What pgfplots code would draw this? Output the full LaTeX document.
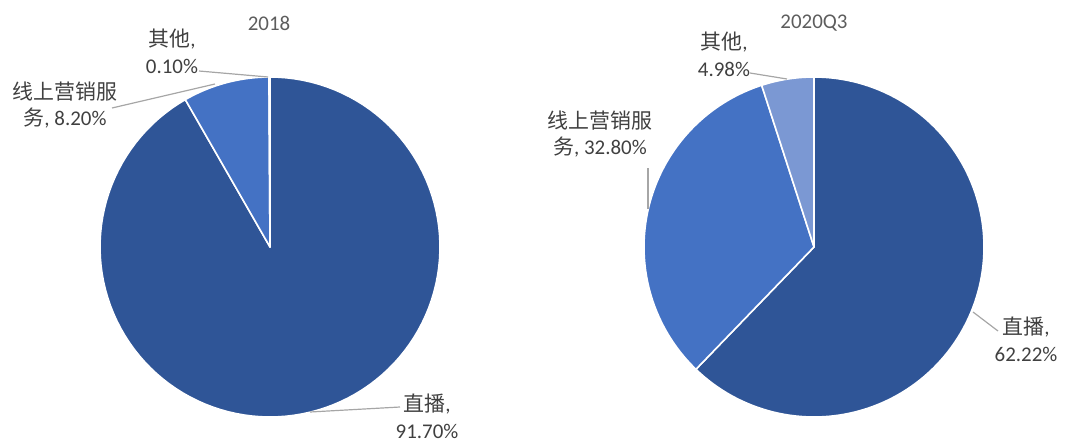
\documentclass[border=0pt]{standalone}
\usepackage{pgfplots}
\pgfplotsset{compat=1.18}
\usepackage{fontspec}
\setmainfont{Carlito}
\newfontfamily\cjk{Noto Sans CJK SC}

\definecolor{live}{HTML}{2F5597}
\definecolor{mkt}{HTML}{4472C4}
\definecolor{other}{HTML}{7B98D3}
\definecolor{lbl}{HTML}{404040}
\definecolor{lead}{HTML}{A6A6A6}

\tikzset{
  lab/.style={font=\fontsize{10.5}{13.5}\selectfont, text=lbl, align=center, inner sep=0pt},
  leader/.style={lead, line width=0.6pt},
}

% pie radius in px of the 1080x444 canvas
\def\radius{170}
% one slice, clockwise from 12 o'clock: cx, cy, from %, to %, colour
\newcommand{\slice}[5]{%
  \addplot[fill=#5, draw=white, line width=0.8pt, line join=round,
    domain=#3:#4, samples=120, variable=\t]
    ({#1+\radius*sin(3.6*\t)}, {#2-\radius*cos(3.6*\t)}) -- (axis cs:#1,#2) -- cycle;}

\begin{document}
\begin{tikzpicture}
\begin{axis}[
  hide axis, scale only axis,
  width=540bp, height=222bp,
  xmin=0, xmax=1080, ymin=0, ymax=444,
  y dir=reverse,
  clip=false,
]
% 2018: live 91.70, marketing 8.20, other 0.10
\slice{270}{247}{0}{91.70}{live}
\slice{270}{247}{91.70}{99.90}{mkt}
\slice{270}{247}{99.90}{100}{other}
% 2020Q3: live 62.22, marketing 32.80, other 4.98
\slice{814}{247}{0}{62.22}{live}
\slice{814}{247}{62.22}{95.02}{mkt}
\slice{814}{247}{95.02}{100}{other}

% titles
\node[lab, text=lbl!85] at (axis cs:269,23) {2018};
\node[lab, text=lbl!85] at (axis cs:814,23) {2020Q3};

% leader lines
\draw[leader] (axis cs:199,71) -- (axis cs:268,77);
\draw[leader] (axis cs:112,108) -- (axis cs:215,84);
\draw[leader] (axis cs:310,412) -- (axis cs:400,407);
\draw[leader] (axis cs:750,73) -- (axis cs:787,79);
\draw[leader] (axis cs:648,168) -- (axis cs:648,209);
\draw[leader] (axis cs:973,312) -- (axis cs:998,331);

% data labels
\node[lab] at (axis cs:172,51) {{\cjk 其他}, \\ 0.10\%};
\node[lab] at (axis cs:65,105) {{\cjk 线上营销服} \\ {\cjk 务}, 8.20\%};
\node[lab] at (axis cs:427,416) {{\cjk 直播}, \\ 91.70\%};
\node[lab] at (axis cs:724,54) {{\cjk 其他}, \\ 4.98\%};
\node[lab] at (axis cs:600,134) {{\cjk 线上营销服} \\ {\cjk 务}, 32.80\%};
\node[lab] at (axis cs:1026,339) {{\cjk 直播}, \\ 62.22\%};
\end{axis}
\path (current axis.south west) rectangle (current axis.north east);
\end{tikzpicture}
\end{document}
